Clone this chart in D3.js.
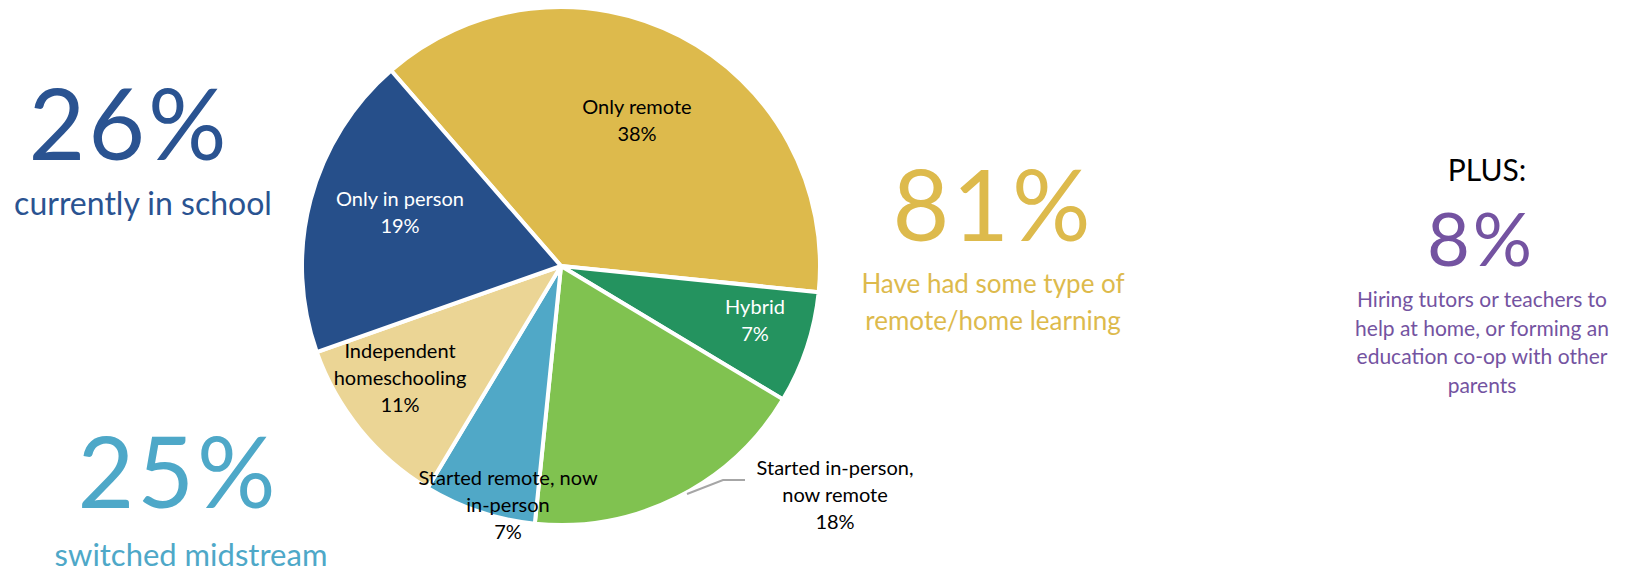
<!DOCTYPE html>
<html>
<head>
<meta charset="utf-8">
<script src="https://cdn.jsdelivr.net/npm/d3@7"></script>
<style>
  html, body { margin: 0; padding: 0; background: #fff; }
  svg { display: block; }
  text { font-family: "Lato", "Noto Sans", sans-serif; }
</style>
</head>
<body>
<svg id="chart" width="1631" height="576"></svg>
<script>
// Learning arrangements (share of respondents, %)
const categories = [
  "Only remote",
  "Hybrid",
  "Started in-person, now remote",
  "Started remote, now in-person",
  "Independent homeschooling",
  "Only in person"
];
const shares = [38, 7, 18, 7, 11, 19];
const sliceColors = ["#DDBA4C", "#24935F", "#80C250", "#50A8C7", "#EBD595", "#264F8A"];
const labelColors = ["#000", "#fff", "#000", "#000", "#000", "#fff"];
const labelLines = [
  ["Only remote"],
  ["Hybrid"],
  ["Started in-person,", "now remote"],
  ["Started remote, now", "in-person"],
  ["Independent", "homeschooling"],
  ["Only in person"]
];

// Headline callouts
const callouts = [
  { value: "26%", caption: ["currently in school"], color: "#2A5391" },
  { value: "25%", caption: ["switched midstream"], color: "#4EA8C8" },
  { value: "81%", caption: ["Have had some type of", "remote/home learning"], color: "#DDBA4C" },
  { value: "8%", caption: ["Hiring tutors or teachers to", "help at home, or forming an", "education co-op with other", "parents"], color: "#7453A1" }
];

const svg = d3.select("#chart");
const cx = 561, cy = 266, radius = 259;
const startDeg = -41;

const pie = d3.pie()
  .sort(null)
  .value(d => d)
  .startAngle(startDeg * Math.PI / 180)
  .endAngle((startDeg + 360) * Math.PI / 180);

const arc = d3.arc().innerRadius(0).outerRadius(radius);
const arcs = pie(shares);

const g = svg.append("g").attr("transform", `translate(${cx},${cy})`);

g.selectAll("path.slice")
  .data(arcs)
  .join("path")
  .attr("class", "slice")
  .attr("d", arc)
  .attr("fill", (d, i) => sliceColors[i])
  .attr("stroke", "#fff")
  .attr("stroke-width", 4)
  .attr("stroke-linejoin", "round");

// Label anchor points relative to the pie centre
const labelAnchors = [
  { x: 76, y: -152 },
  { x: 194, y: 48 },
  { x: 274, y: 209 },
  { x: -53, y: 219 },
  { x: -161, y: 92 },
  { x: -161, y: -60 }
];
const lineGap = 27;

arcs.forEach((a, i) => {
  const lines = labelLines[i].concat([shares[i] + "%"]);
  const t = g.append("text")
    .attr("text-anchor", "middle")
    .attr("fill", labelColors[i])
    .attr("font-size", 20);
  lines.forEach((ln, k) => {
    t.append("tspan")
      .attr("x", labelAnchors[i].x)
      .attr("y", labelAnchors[i].y + k * lineGap)
      .text(ln);
  });
});

// Leader line for the outside label
const leader = d3.line();
g.append("path")
  .attr("d", leader([[126, 228], [162, 214], [184, 214]]))
  .attr("fill", "none")
  .attr("stroke", "#A6A6A6")
  .attr("stroke-width", 2);

// Callout text blocks
const calloutLayout = [
  { x: 129, y: 160, size: 98, capX: 143, capY: 215, capSize: 32, capGap: 0 },
  { x: 178, y: 508, size: 98, capX: 191, capY: 566, capSize: 31, capGap: 0 },
  { x: 993, y: 241, size: 98, capX: 993, capY: 293, capSize: 26, capGap: 37 },
  { x: 1481, y: 266, size: 74, capX: 1482, capY: 307, capSize: 21, capGap: 28.5 }
];

callouts.forEach((c, i) => {
  const L = calloutLayout[i];
  svg.append("text")
    .attr("x", L.x).attr("y", L.y)
    .attr("text-anchor", "middle")
    .attr("fill", c.color)
    .attr("font-size", L.size)
    .attr("font-weight", 400)
    .attr("letter-spacing", 3)
    .text(c.value);
  const t = svg.append("text")
    .attr("text-anchor", "middle")
    .attr("fill", c.color)
    .attr("font-size", L.capSize);
  c.caption.forEach((ln, k) => {
    t.append("tspan").attr("x", L.capX).attr("y", L.capY + k * L.capGap).text(ln);
  });
});

svg.append("text")
  .attr("x", 1487).attr("y", 181)
  .attr("text-anchor", "middle")
  .attr("fill", "#000")
  .attr("font-size", 30)
  .text("PLUS:");
</script>
</body>
</html>
